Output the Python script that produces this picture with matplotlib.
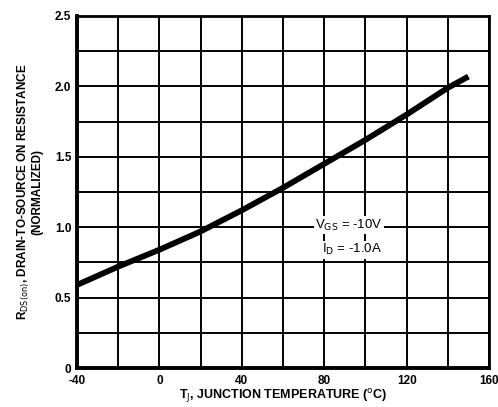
import numpy as np
import matplotlib
matplotlib.use('Agg')
import matplotlib.pyplot as plt

# curve
temp_c = [-40, -20, 0, 20, 40, 60, 80, 100, 120, 140, 150]
rds_norm = [0.59, 0.72, 0.84, 0.97, 1.12, 1.28, 1.45, 1.62, 1.80, 1.99, 2.07]

x_ticks = [-40, 0, 40, 80, 120, 160]
x_tick_labels = ['-40', '0', '40', '80', '120', '160']
y_ticks = [0, 0.5, 1.0, 1.5, 2.0, 2.5]
y_tick_labels = ['0', '0.5', '1.0', '1.5', '2.0', '2.5']

font = ['Liberation Sans Narrow', 'Liberation Sans', 'DejaVu Sans']
plt.rcParams['font.family'] = font

fig = plt.figure(figsize=(4.98, 4.07), dpi=100)
ax = fig.add_axes([0.1546, 0.0958, 0.8274, 0.8649])

# grid
for gx in np.arange(-40, 161, 20):
    ax.axvline(gx, color='black', lw=1.4, zorder=1)
for gy in np.arange(0, 2.51, 0.25):
    ax.axhline(gy, color='black', lw=1.4, zorder=1)

ax.plot(temp_c, rds_norm, color='black', lw=4.2, solid_capstyle='butt', zorder=3)

ax.set_xlim(-40, 160)
ax.set_ylim(0, 2.5)
ax.set_xticks(x_ticks)
ax.set_xticklabels(x_tick_labels, fontweight='bold')
ax.set_yticks(y_ticks)
ax.set_yticklabels(y_tick_labels, fontweight='bold')
ax.tick_params(length=0, labelsize=8.5)
ax.tick_params(axis='x', pad=5)
ax.tick_params(axis='y', pad=4)

for side in ['left', 'bottom']:
    ax.spines[side].set_linewidth(2.8)
for side in ['top', 'right']:
    ax.spines[side].set_linewidth(2.0)

ax.text(92, 1.016, r'V$_{\mathrm{GS}}$ = -10V', ha='center', va='center', fontsize=9.5,
        bbox=dict(facecolor='white', edgecolor='none', pad=1.0), zorder=4)
ax.text(93.5, 0.84, r'I$_{\mathrm{D}}$ = -1.0A', ha='center', va='center', fontsize=9.5,
        bbox=dict(facecolor='white', edgecolor='none', pad=1.0), zorder=4)

ax.set_xlabel(r'T$_{\mathrm{J}}$, JUNCTION TEMPERATURE ($^{\mathrm{o}}$C)', fontsize=9,
              fontweight='bold', labelpad=0)
ax.set_ylabel('R$_{\\mathrm{DS(on)}}$, DRAIN-TO-SOURCE ON RESISTANCE\n(NORMALIZED)',
              fontsize=8.5, fontweight='bold', labelpad=8, linespacing=1.0)

fig.savefig('out.png', dpi=100)
